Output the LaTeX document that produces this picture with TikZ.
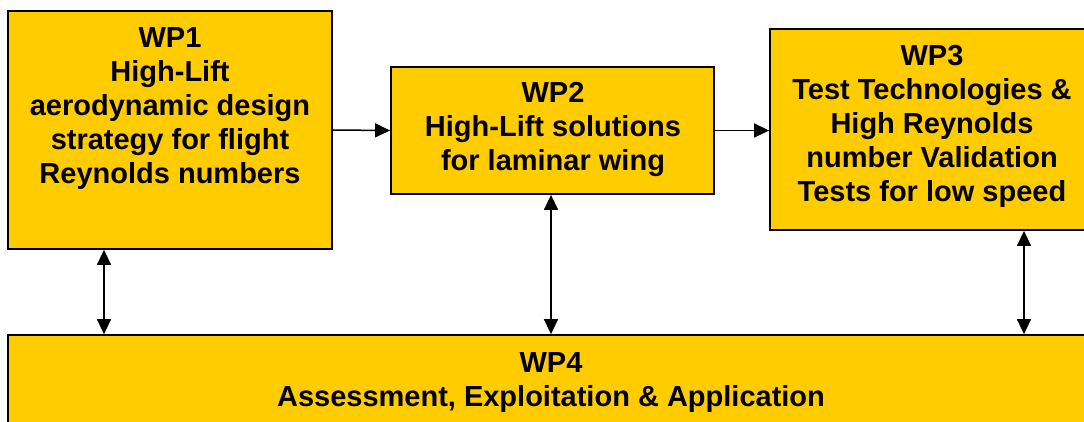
\documentclass[tikz,border=0pt]{standalone}
\usepackage{fontspec}
\setmainfont{Liberation Sans}
\usetikzlibrary{arrows.meta}
\definecolor{wpfill}{HTML}{FFCC00}
\begin{document}
\begin{tikzpicture}[x=1pt,y=-1pt,
  wpbox/.style={draw=black,line width=1.8pt,fill=wpfill,inner sep=0pt,rectangle},
  wptext/.style={align=center,inner sep=0pt,font=\fontsize{29}{34}\selectfont\bfseries},
  link/.style={line width=1.5pt,-{Triangle[length=15pt,width=14pt]}},
  dlink/.style={line width=1.5pt,{Triangle[length=15pt,width=14pt]}-{Triangle[length=15pt,width=14pt]}}]
\useasboundingbox (0,0) rectangle (1084,421);
\clip (0,0) rectangle (1084,421);
\fill[white] (0,0) rectangle (1084,421);

% work package boxes
\node[wpbox,minimum width=324pt,minimum height=238pt] (wp1) at (170,130) {};
\node[wpbox,minimum width=323pt,minimum height=127pt] (wp2) at (552.5,130.5) {};
\node[wpbox,minimum width=324pt,minimum height=201pt] (wp3) at (932,129.5) {};
\node[wpbox,minimum width=1086pt,minimum height=110pt] (wp4) at (551,390) {};

% box texts
\node[wptext] (t1) at (170,108.5) {WP1\\High-Lift\\aerodynamic design\\strategy for flight\\Reynolds numbers};
\node[wptext] (t2) at (553,129.5) {WP2\\High-Lift solutions\\for laminar wing};
\node[wptext] (t3) at (932,126.5) {WP3\\Test Technologies \&\\High Reynolds\\number Validation\\Tests for low speed};
\node[wptext] (t4) at (551,383) {WP4\\Assessment, Exploitation \& Application};

% connectors
\coordinate (c1) at (104,0);
\coordinate (c2) at (551,0);
\coordinate (c3) at (1024,0);
\draw[link] (wp1.east) -- (wp2.west);
\draw[link] (wp2.east) -- (wp3.west |- wp2.east);
\draw[dlink] (wp1.south -| c1) -- (wp4.north -| c1);
\draw[dlink] (wp2.south -| c2) -- (wp4.north -| c2);
\draw[dlink] (wp3.south -| c3) -- (wp4.north -| c3);
\end{tikzpicture}
\end{document}
